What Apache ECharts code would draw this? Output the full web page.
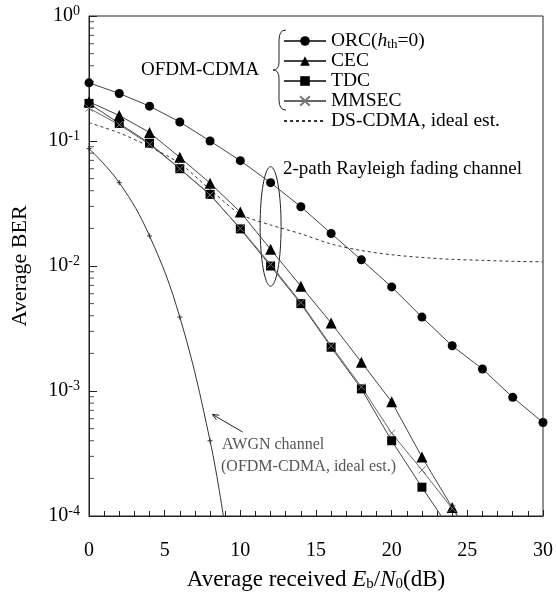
<!DOCTYPE html>
<html>
<head>
<meta charset="utf-8">
<script src="https://cdn.jsdelivr.net/npm/echarts@6/dist/echarts.min.js"></script>
<style>
  html, body { margin: 0; padding: 0; background: #fff; }
  #chart { width: 556px; height: 598px; }
</style>
</head>
<body>
<div id="chart"></div>
<script>
// Eb/N0 (dB) points
const snr = [0, 2, 4, 6, 8, 10, 12, 14, 16, 18, 20, 22, 24, 26, 28, 30]
// OFDM-CDMA
const orc = [0.292, 0.24, 0.19, 0.142, 0.1, 0.0696, 0.0464, 0.0298, 0.0182, 0.0112, 0.0068, 0.0039, 0.0023, 0.0015, 0.00089, 0.00056]
const cec = [0.206, 0.16, 0.117, 0.074, 0.046, 0.027, 0.0136, 0.0069, 0.0035, 0.0017, 0.00082, 0.000296, 0.000117]
const tdc = [0.2, 0.138, 0.096, 0.06, 0.0374, 0.0198, 0.01, 0.005, 0.00224, 0.00104, 0.0004, 0.00017]
const mmsec = [0.183, 0.135, 0.094, 0.06, 0.037, 0.02, 0.0103, 0.0051, 0.0023, 0.00108, 0.00046, 0.000233, 0.000115]
// where each curve leaves the bottom of the plot (no marker)
const cecTail = [25, 0.000074]
const tdcTail = [24, 0.000074]
const mmsecTail = [25, 0.00008]
// DS-CDMA, ideal est. (dashed)
const dsCdma = [0.14, 0.116, 0.09, 0.066, 0.041, 0.026, 0.0213, 0.0181, 0.015, 0.0133, 0.0123, 0.0117, 0.0113, 0.0111, 0.0109, 0.0108]
// AWGN channel (OFDM-CDMA, ideal est.)
const awgn = [0.087, 0.0464, 0.0174, 0.0039, 0.0004]
const awgnTail = [9, 0.00008]
// log axis minor tick values
const minorTickVals = []
for (let k = -4; k < 0; k++) {
  for (let m = 2; m <= 9; m++) minorTickVals.push(m * Math.pow(10, k))
}

const serif = 'Liberation Serif, DejaVu Serif, serif'
const crossPath = 'path://M0,0L10,10M10,0L0,10'
const plusPath = 'path://M5,0L5,10M0,5L10,5'

function pairs(vals) {
  return vals.map((v, i) => [snr[i], v])
}
function withTail(vals, tail) {
  return pairs(vals).concat([{ value: tail, symbol: 'none' }])
}

const lineStyle = { color: '#444', width: 1 }

const chart = echarts.init(document.getElementById('chart'))
chart.setOption({
  animation: false,
  backgroundColor: '#fff',
  grid: {
    left: 89,
    right: 10,
    top: 16,
    bottom: 82,
    show: true,
    borderColor: '#222',
    borderWidth: 1
  },
  legend: {
    orient: 'vertical',
    left: 283,
    top: 31,
    padding: 0,
    itemGap: 0,
    itemWidth: 42,
    itemHeight: 12,
    data: [
      'ORC', 'CEC', 'TDC', 'MMSEC',
      {
        // dashed line only, hide the marker
        name: 'DS-CDMA, ideal est.',
        itemStyle: { color: 'rgba(0,0,0,0)', borderColor: 'rgba(0,0,0,0)', borderWidth: 0 }
      }
    ],
    formatter: function(name) {
      if (name === 'ORC') return 'ORC({i|h}{sub|th}=0)'
      return name
    },
    textStyle: {
      fontFamily: serif,
      fontSize: 19.5,
      lineHeight: 20,
      color: '#000',
      rich: {
        i: { fontFamily: serif, fontSize: 19.5, fontStyle: 'italic', color: '#000' },
        sub: { fontFamily: serif, fontSize: 13, color: '#000', padding: [7, 0, 0, 0] }
      }
    }
  },
  xAxis: {
    type: 'value',
    min: 0,
    max: 30,
    interval: 5,
    name: 'Average received {i|E}{sub|b}/{i|N}{sub|0}(dB)',
    nameLocation: 'middle',
    nameGap: 52,
    nameTextStyle: {
      fontFamily: serif,
      fontSize: 23,
      color: '#000',
      rich: {
        i: { fontFamily: serif, fontSize: 23, fontStyle: 'italic', color: '#000' },
        sub: { fontFamily: serif, fontSize: 15, color: '#000', padding: [9, 0, 0, 0] }
      }
    },
    axisLine: { lineStyle: { color: '#222', width: 1 } },
    axisTick: { inside: true, length: 6, lineStyle: { color: '#222' } },
    minorTick: { show: true, splitNumber: 5, length: 5, lineStyle: { color: '#222' } },
    splitLine: { show: false },
    axisLabel: { fontFamily: serif, fontSize: 20, color: '#000', margin: 25 }
  },
  yAxis: {
    type: 'log',
    logBase: 10,
    min: 0.0001,
    max: 1,
    name: 'Average BER',
    nameLocation: 'middle',
    nameGap: 58,
    nameTextStyle: { fontFamily: serif, fontSize: 22, color: '#000' },
    axisLine: { lineStyle: { color: '#222', width: 1 } },
    axisTick: { inside: true, length: 8, lineStyle: { color: '#222' } },
    splitLine: { show: false },
    axisLabel: {
      margin: 9,
      formatter: function(v) {
        return '{b|10}{sup|' + Math.round(Math.log10(v)) + '}'
      },
      rich: {
        b: { fontFamily: serif, fontSize: 20, color: '#000' },
        sup: { fontFamily: serif, fontSize: 14, color: '#000', padding: [0, 0, 9, 0] }
      }
    }
  },
  series: [
    {
      name: 'ORC',
      type: 'line',
      data: pairs(orc),
      symbol: 'circle',
      symbolSize: 9,
      lineStyle: lineStyle,
      itemStyle: { color: '#000' }
    },
    {
      name: 'CEC',
      type: 'line',
      data: withTail(cec, cecTail),
      symbol: 'triangle',
      symbolSize: 11,
      lineStyle: lineStyle,
      itemStyle: { color: '#000' }
    },
    {
      name: 'TDC',
      type: 'line',
      data: withTail(tdc, tdcTail),
      symbol: 'rect',
      symbolSize: 9,
      lineStyle: lineStyle,
      itemStyle: { color: '#000' }
    },
    {
      name: 'MMSEC',
      type: 'line',
      data: withTail(mmsec, mmsecTail),
      symbol: crossPath,
      symbolSize: 7,
      lineStyle: { color: '#666', width: 1 },
      itemStyle: { color: 'none', borderColor: '#777', borderWidth: 1 }
    },
    {
      name: 'DS-CDMA, ideal est.',
      type: 'line',
      data: pairs(dsCdma),
      symbol: 'none',
      smooth: 0.3,
      lineStyle: { color: '#333', width: 1, type: [3, 3] },
      itemStyle: { color: '#333' }
    },
    {
      name: 'AWGN',
      type: 'line',
      data: withTail(awgn, awgnTail),
      symbol: plusPath,
      symbolSize: 5,
      smooth: 0.4,
      lineStyle: { color: '#333', width: 1 },
      itemStyle: { color: 'none', borderColor: '#333', borderWidth: 1 }
    },
    {
      // minor ticks of the log axis
      name: 'yMinor',
      type: 'scatter',
      data: minorTickVals.map(v => [0, v]),
      symbol: 'rect',
      symbolSize: [5, 1],
      symbolOffset: [2.5, 0],
      itemStyle: { color: '#222' },
      silent: true,
      z: 1
    }
  ]
})

// annotations placed from data coordinates
const elTop = chart.convertToPixel({ gridIndex: 0 }, [12, 0.0623])
const elBot = chart.convertToPixel({ gridIndex: 0 }, [12, 0.0069])
const arrTip = chart.convertToPixel({ gridIndex: 0 }, [8.15, 0.00065])
const arrTail = chart.convertToPixel({ gridIndex: 0 }, [10.15, 0.00047])
const ang = Math.atan2(arrTail[1] - arrTip[1], arrTail[0] - arrTip[0])
const head = 7
const h1 = [arrTip[0] + head * Math.cos(ang - 0.4), arrTip[1] + head * Math.sin(ang - 0.4)]
const h2 = [arrTip[0] + head * Math.cos(ang + 0.4), arrTip[1] + head * Math.sin(ang + 0.4)]

// curly brace beside the OFDM-CDMA legend entries
const braceStyle = { fill: 'none', stroke: '#222', lineWidth: 1 }
const brace = [
  { x1: 286, y1: 30, cpx1: 279, cpy1: 30, x2: 279, y2: 40 },
  { x1: 279, y1: 62, cpx1: 279, cpy1: 70, x2: 273, y2: 70 },
  { x1: 273, y1: 70, cpx1: 279, cpy1: 70, x2: 279, y2: 78 },
  { x1: 279, y1: 100, cpx1: 279, cpy1: 110, x2: 286, y2: 110 }
].map(s => ({ type: 'bezierCurve', shape: s, style: braceStyle }))
brace.push(
  { type: 'line', shape: { x1: 279, y1: 40, x2: 279, y2: 62 }, style: braceStyle },
  { type: 'line', shape: { x1: 279, y1: 78, x2: 279, y2: 100 }, style: braceStyle }
)

chart.setOption({
  graphic: brace.concat([
    {
      type: 'ellipse',
      shape: {
        cx: elTop[0],
        cy: (elTop[1] + elBot[1]) / 2,
        rx: 10.5,
        ry: (elBot[1] - elTop[1]) / 2
      },
      style: { fill: 'none', stroke: '#222', lineWidth: 1 }
    },
    {
      type: 'text',
      left: 283,
      top: 160,
      style: { text: '2-path Rayleigh fading channel', font: '19px ' + serif, fill: '#000' }
    },
    {
      type: 'text',
      left: 141,
      top: 61,
      style: { text: 'OFDM-CDMA', font: '19px ' + serif, fill: '#000' }
    },
    {
      type: 'polyline',
      shape: { points: [arrTail, arrTip] },
      style: { stroke: '#222', lineWidth: 1 }
    },
    {
      type: 'polyline',
      shape: { points: [h1, arrTip, h2] },
      style: { fill: 'none', stroke: '#222', lineWidth: 1 }
    },
    {
      type: 'text',
      left: 222,
      top: 437,
      style: { text: 'AWGN channel', font: '16px ' + serif, fill: '#555' }
    },
    {
      type: 'text',
      left: 221,
      top: 459,
      style: { text: '(OFDM-CDMA, ideal est.)', font: '16px ' + serif, fill: '#555' }
    }
  ])
})
</script>
</body>
</html>
